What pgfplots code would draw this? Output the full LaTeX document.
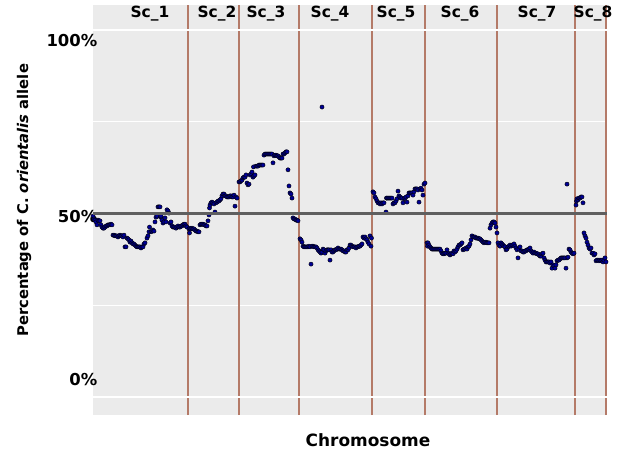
\documentclass[border=0pt]{standalone}
\usepackage{pgfplots}
\usepackage{pgfplotstable}
\usepackage{fontspec}
\setmainfont{DejaVu Sans}
\pgfplotsset{compat=1.18}

\definecolor{panelbg}{RGB}{235,235,235}
\definecolor{chrline}{RGB}{180,122,104}
\definecolor{midline}{RGB}{95,95,95}
\definecolor{snpblue}{RGB}{0,0,150}

% marker position along the concatenated scaffolds, percentage of C. orientalis allele
\pgfplotstableread{
pos pct
93 49.3
94 48.5
95 48.2
96 47.7
97 46.9
98 48.2
99 48.0
100 48.0
101 46.9
102 46.3
103 46.0
104 46.0
105 46.3
106 46.6
107 46.6
108 46.9
109 46.9
110 46.9
111 47.1
112 46.9
113 44.1
114 44.1
115 43.9
116 43.9
117 43.9
118 43.6
119 43.9
120 44.1
121 43.9
122 43.9
123 43.6
124 44.1
125 40.9
126 40.9
127 43.3
128 43.1
129 42.8
130 42.2
131 42.5
132 42.0
133 41.7
134 41.7
135 41.4
136 41.1
137 40.9
138 40.9
139 40.9
140 40.9
141 40.6
142 40.9
143 40.9
144 41.7
145 42.0
147 43.3
148 43.9
149 45.0
149.5 46.3
151 45.0
152 45.2
153 45.5
154 45.2
155 47.7
156 49.0
157 49.3
158 51.8
159 51.8
160 51.8
160.5 49.0
161 49.3
162 48.2
163 47.4
164 47.7
165 48.8
166 47.7
167 51.0
168 50.7
169 50.1
170 47.4
171 47.7
172 46.6
173 46.3
174 46.3
175 46.3
176 46.0
177 46.3
178 46.6
179 46.3
180 46.3
181 46.6
182 46.6
183 46.9
184 47.1
185 47.1
186 46.6
187 46.3
189 45.8
189.5 44.7
190 46.0
191 45.8
192 46.0
193 45.8
194 45.8
195 45.5
196 45.2
197 45.2
198 45.0
199 45.0
200 46.9
201 47.1
202 47.1
203 47.1
204 46.9
205 46.9
206 46.6
207 46.6
208 48.0
209 49.6
209.5 51.5
210 52.3
211 52.9
212 53.1
213 52.9
214 52.6
215 50.4
216 52.9
217 53.1
218 53.4
219 53.4
220 53.7
221 54.0
222 54.8
223 55.3
224 55.3
225 54.8
226 54.8
227 54.5
228 54.5
229 54.5
230 54.8
231 54.8
232 54.5
233 54.5
234 55.0
235 52.0
236 54.5
237 54.2
239 58.6
240 58.6
241 58.9
242 59.1
243 59.7
244 59.9
245 59.9
246 60.5
247 58.3
248 57.8
249 58.0
250 60.5
251 60.8
252 61.3
253 59.9
254 60.2
255 60.5
253.5 62.7
256 62.9
257 62.9
258 62.9
259 63.2
260 63.2
261 63.2
262 63.2
263 63.2
264 65.9
265 66.2
266 66.2
267 66.2
268 66.2
269 66.2
270 66.2
271 66.2
272 66.2
273 63.8
274 65.7
275 65.9
276 65.9
277 65.7
278 65.7
279 65.4
280 65.1
281 65.1
282 65.1
283 66.2
284 66.2
285 66.5
286 66.8
287 66.8
288 61.9
289 57.5
290 55.6
291 55.3
292 54.2
293 48.8
294 48.5
295 48.5
296 48.2
297 48.2
298 48.0
300 43.1
301 42.8
302 42.2
303 41.1
304 40.9
305 40.9
306 40.9
307 40.9
308 40.9
309 41.1
310 40.9
311 36.2
312 41.1
313 41.1
314 40.9
315 40.9
316 40.9
317 40.6
318 40.1
319 39.8
320 39.5
321 39.2
322 79.0
322 39.5
323 40.3
324 40.1
325 39.2
326 39.8
327 40.1
328 40.1
329 40.1
330 37.3
331 40.1
332 39.5
333 39.5
334 39.8
335 40.1
336 40.1
337 40.3
338 40.6
339 40.3
340 40.3
341 40.3
342 40.1
343 39.8
344 39.8
345 39.5
346 39.5
347 40.1
348 40.1
349 40.6
350 41.4
351 41.4
352 41.1
353 40.9
354 40.9
355 40.9
356 40.6
357 40.9
358 40.9
359 41.1
360 41.1
361 41.4
362 41.7
363 43.6
364 43.3
365 43.6
366 43.1
367 42.8
368 42.2
369 41.7
370 43.9
371 41.1
371.5 43.3
373 55.9
374 55.6
375 54.5
376 54.0
377 53.4
378 52.9
379 52.9
380 52.6
381 52.9
382 52.6
383 52.9
384 52.9
386 50.4
386.5 54.2
387 54.2
388 54.2
389 54.2
390 54.2
391 54.2
392 54.2
393 52.6
394 52.9
395 52.9
396 53.4
397 54.0
398 56.1
399 54.8
400 54.5
401 54.2
402 54.2
403 52.9
404 54.0
405 54.2
406 54.5
407 53.1
408 54.8
409 55.6
410 55.6
411 55.6
412 55.6
413 55.0
414 55.9
415 56.7
416 56.7
417 56.7
418 56.4
419 53.1
420 56.7
421 56.9
422 56.4
423 55.0
424 58.0
425 58.3
427 42.0
427.5 41.1
428 42.0
429 41.4
430 40.9
431 40.6
432 40.3
433 40.3
434 40.3
435 40.3
436 40.3
437 40.3
438 40.3
439 40.3
440 40.3
441 39.8
442 39.2
443 39.0
444 39.0
445 39.2
446 39.2
447 40.1
448 39.2
449 39.0
450 38.7
451 39.0
452 39.2
453 39.0
454 39.8
455 39.5
456 39.8
457 40.3
458 40.9
459 41.4
460 41.4
461 41.7
462 42.0
463 40.1
464 40.3
465 40.3
466 40.6
467 40.3
468 40.9
469 41.1
470 41.7
471 42.8
472 43.9
473 43.6
474 43.6
475 43.6
476 43.3
477 43.3
478 43.3
479 43.1
480 43.1
481 42.8
482 42.5
483 42.2
484 42.0
485 42.2
486 42.2
487 42.0
488 42.0
489 42.0
490 46.0
491 46.9
492 47.4
493 47.7
494 47.7
495 47.4
496 46.3
497 44.7
498 42.0
499 41.4
500 41.1
501 42.0
502 41.7
503 41.4
504 41.1
505 40.9
506 40.1
507 40.3
508 40.9
509 41.1
510 41.4
511 41.1
512 41.4
513 41.4
514 41.7
515 41.1
516 40.6
517 40.1
518 37.9
519 40.3
520 40.9
521 39.8
522 39.8
523 39.5
524 39.5
525 39.8
526 39.8
527 40.1
528 40.1
529 40.3
530 40.6
531 39.8
532 39.5
533 39.2
534 39.5
535 39.2
536 39.2
537 39.0
538 39.0
539 38.7
540 38.4
541 38.4
542 39.0
543 39.2
544 37.9
545 37.3
546 36.8
547 36.8
548 36.8
549 36.8
550 36.5
551 36.8
552 35.1
553 36.0
554 35.7
555 35.1
556 36.0
557 37.1
558 37.3
559 37.3
560 37.6
561 37.9
562 37.9
563 37.9
564 37.9
565 37.9
566 35.1
567 58.0
567 37.9
568 38.1
569 40.3
570 40.1
571 39.5
572 39.2
573 39.0
574 39.2
576 52.3
576.5 53.4
577 54.0
578 53.7
579 54.2
580 54.2
581 54.5
582 54.5
583 52.9
584 44.7
585 43.9
586 43.3
587 42.2
588 41.4
589 40.6
590 40.3
591 40.6
592 39.2
593 39.2
594 38.7
595 39.0
596 37.1
597 37.3
598 37.3
599 37.1
600 37.3
601 37.1
602 37.3
603 36.8
604 37.3
605 37.9
606 36.8
}\allelefreq

\begin{document}
\begin{tikzpicture}
\begin{axis}[
  scale only axis,
  width=514bp, height=410bp,
  xmin=93, xmax=607,
  ymin=-4.9, ymax=106.8,
  axis line style={draw=none},
  axis background/.style={fill=panelbg},
  xtick=\empty,
  ytick={4.8,49.2,97.1},
  yticklabels={0\%,50\%,100\%},
  major tick length=0pt,
  minor tick length=0pt,
  yticklabel style={anchor=east, inner sep=0pt, xshift=4.5bp,
    font=\fontsize{16.5}{19}\selectfont\bfseries},
  minor ytick={25,75},
  yminorgrids,
  minor grid style={white, line width=0.8bp},
  extra x ticks={188.3,238.7,299,371.7,425.3,496.7,575,606},
  extra x tick labels={},
  extra x tick style={grid=major, major grid style={draw=chrline, line width=1.8bp}},
  xlabel={Chromosome},
  xlabel style={at={(axis description cs:0.535,-0.061)}, anchor=center,
    font=\fontsize{17}{20}\selectfont\bfseries},
  ylabel={Percentage of C. \textit{orientalis} allele},
  ylabel style={at={(axis description cs:-0.1342,0.524)}, anchor=center,
    font=\fontsize{14.8}{17}\selectfont\bfseries},
  clip mode=individual,
]
% major gridlines at 0% and 100%
\draw[white, line width=1.4bp] (axis cs:93,0) -- (axis cs:607,0);
\draw[white, line width=1.4bp] (axis cs:93,100) -- (axis cs:607,100);

\addplot[only marks, mark=*, mark size=2.1bp,
  mark options={draw=none, fill=snpblue}] table[x=pos, y=pct] {\allelefreq};

% 50% reference line
\addplot[midline, line width=2.4bp] coordinates {(93,50) (607,50)};

% scaffold names
\begin{scope}[every node/.style={anchor=base, font=\fontsize{15.5}{18}\selectfont\bfseries}]
\node at (axis cs:150,103.3) {Sc\_1};
\node at (axis cs:217,103.3) {Sc\_2};
\node at (axis cs:266,103.3) {Sc\_3};
\node at (axis cs:330,103.3) {Sc\_4};
\node at (axis cs:396,103.3) {Sc\_5};
\node at (axis cs:460,103.3) {Sc\_6};
\node at (axis cs:537,103.3) {Sc\_7};
\node at (axis cs:593,103.3) {Sc\_8};
\end{scope}
\end{axis}
\path[use as bounding box] ([shift={(-93bp,-37bp)}]current axis.south west)
  rectangle ([shift={(16bp,5bp)}]current axis.north east);
\end{tikzpicture}
\end{document}
